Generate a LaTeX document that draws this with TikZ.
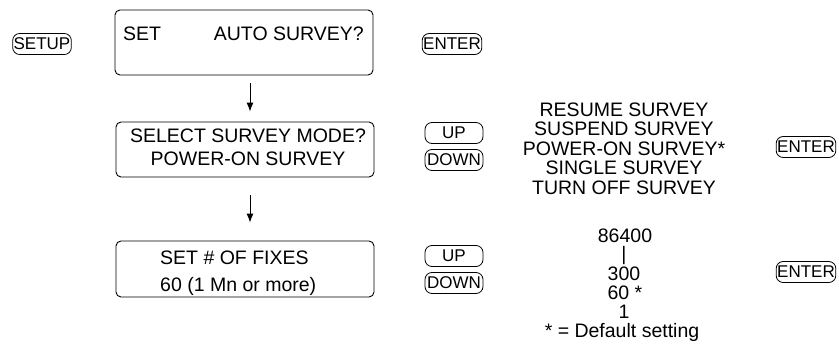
\documentclass[tikz,border=0pt]{standalone}
\usepackage{fontspec}
\setmainfont{Liberation Sans}
\usetikzlibrary{arrows.meta}
\begin{document}
\begin{tikzpicture}[x=1pt,y=-1pt,
  lcd/.style={draw, rounded corners=5pt, line width=0.9pt, minimum width=258pt, minimum height=#1, inner sep=0pt},
  key/.style={draw, rounded corners=7pt, line width=0.8pt, inner xsep=1pt, inner ysep=0pt, minimum height=21pt, font=\fontsize{17}{17}\selectfont},
  widekey/.style={key, minimum width=58pt},
  txt/.style={inner sep=0pt, anchor=base, font=\fontsize{19.5}{19.5}\selectfont},
  flow/.style={line width=0.9pt, -{Latex[length=9pt,width=7pt]}}]
\useasboundingbox (0,0) rectangle (839,348);

% keys
\node[key] (setup) at (42,44) {SETUP};
\node[key] (enter1) at (452,44) {ENTER};
\node[widekey] (up1) at (454,133) {UP};
\node[widekey] (down1) at (454,160) {DOWN};
\node[key] (enter2) at (806,147) {ENTER};
\node[widekey] (up2) at (454,256) {UP};
\node[widekey] (down2) at (454,283) {DOWN};
\node[key] (enter3) at (806,272) {ENTER};

% display boxes
\node[lcd=65pt] (b1) at (244,42.5) {};
\node[lcd=55pt] (b2) at (245,149.5) {};
\node[lcd=56pt] (b3) at (245,269) {};

\node[txt, anchor=base west] (b1a) at (123,40.5) {SET};
\node[txt, anchor=base east] (b1b) at (364,40.5) {AUTO SURVEY?};
\node[txt] (b2a) at (248,142) {SELECT SURVEY MODE?};
\node[txt] (b2b) at (248,165) {POWER-ON SURVEY};
\node[txt, anchor=base west] (b3a) at (160,264) {SET \# OF FIXES};
\node[txt, anchor=base west] (b3b) at (160,291) {60 (1 Mn or more)};

% arrows
\draw[flow, shorten <=8pt, shorten >=10pt] ([xshift=6pt]b1.south) -- ([xshift=5pt]b2.north);
\draw[flow, shorten <=18pt, shorten >=18pt] ([xshift=5pt]b2.south) -- ([xshift=5pt]b3.north);

% mode list
\node[txt] (m1) at (624,116) {RESUME SURVEY};
\node[txt] (m2) at (624,135.5) {SUSPEND SURVEY};
\node[txt] (m3) at (624,155) {POWER-ON SURVEY*};
\node[txt] (m4) at (624,174.5) {SINGLE SURVEY};
\node[txt] (m5) at (624,194) {TURN OFF SURVEY};

% fixes list
\node[txt] (n1) at (625,242) {86400};
\node[txt] (n2) at (624,260) {|};
\node[txt] (n3) at (624,280) {300};
\node[txt] (n4) at (625,299) {60 *};
\node[txt] (n5) at (624,318) {1};
\node[txt] (n6) at (622,337) {* = Default setting};
\end{tikzpicture}
\end{document}
